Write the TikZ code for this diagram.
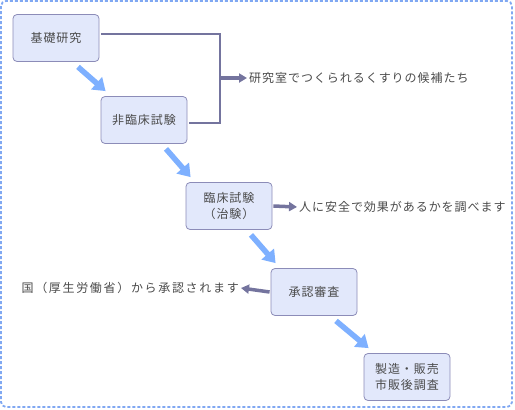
\documentclass[tikz,border=0pt]{standalone}
\usepackage{fontspec}
\setmainfont{Noto Sans CJK JP}[LetterSpace=8]
\usetikzlibrary{positioning,arrows.meta}
\usepackage{xcolor}

\definecolor{boxfill}{HTML}{E2E8FB}
\definecolor{boxline}{HTML}{8C8CB8}
\definecolor{flowblue}{HTML}{7EB0FF}
\definecolor{linkgray}{HTML}{74749E}
\definecolor{textgray}{HTML}{4A4A4A}
\definecolor{frameblue}{HTML}{80A8F2}

\begin{document}
\begin{tikzpicture}[
x=1pt, y=-1pt,
box/.style={draw=boxline, fill=boxfill, rounded corners=4pt, line width=0.8pt, align=center, minimum width=86pt, minimum height=47pt, text=textgray, font=\fontsize{12}{16}\selectfont},
note/.style={text=textgray, inner sep=2pt, font=\fontsize{12}{16}\selectfont},
flow/.style={draw=flowblue, line width=5.5pt, -{Triangle[length=12pt,width=16pt]}},
link/.style={draw=linkgray, line width=2pt},
linkarrow/.style={draw=linkgray, line width=3.5pt, -{Triangle[length=8pt,width=9pt]}}
]

\useasboundingbox (0,0) rectangle (515,410);

%-------------------------
% Marco
%-------------------------

\draw[frameblue, line width=1.8pt, dash pattern=on 3pt off 2pt, rounded corners=5pt] (1,1) rectangle (512,407);

%-------------------------
% Nodos
%-------------------------

\node[box] (kiso)   at (56,38)   {基礎研究};
\node[box] (hirin)  at (144,120) {非臨床試験};
\node[box] (rinsho) at (229,206) {臨床試験\\（治験）};
\node[box] (shonin) at (314,292) {承認審査};
\node[box] (seizo)  at (407,377) {製造・販売\\市販後調査};

\coordinate (bend) at (220,78);

\node[note, anchor=west] (cand)  at (247,78)  {研究室でつくられるくすりの候補たち};
\node[note, anchor=west] (human) at (297,207) {人に安全で効果があるかを調べます};
\node[note, anchor=east] (kuni)  at (241,288) {\addfontfeatures{LetterSpace=14}国（厚生労働省）から承認されます};

%-------------------------
% Flechas
%-------------------------

\draw[flow] ([xshift=22pt,yshift=-5pt]kiso.south)   -- ([xshift=5pt,yshift=5pt]hirin.north west);
\draw[flow] ([xshift=22pt,yshift=-5pt]hirin.south)  -- ([xshift=5pt,yshift=5pt]rinsho.north west);
\draw[flow] ([xshift=22pt,yshift=-5pt]rinsho.south) -- ([xshift=5pt,yshift=5pt]shonin.north west);
\draw[flow] ([xshift=22pt,yshift=-5pt]shonin.south) -- ([xshift=5pt,yshift=5pt]seizo.north west);

\draw[link] ([xshift=2pt,yshift=4pt]kiso.east) -| (bend) |- ([xshift=2pt,yshift=-3pt]hirin.east);
\draw[linkarrow] ([xshift=-1pt]bend) -- (cand.west);

\draw[linkarrow] ([xshift=1pt]rinsho.east) -- (human.west);
\draw[linkarrow] ([xshift=-1pt]shonin.west) -- (kuni.east);

\end{tikzpicture}
\end{document}
